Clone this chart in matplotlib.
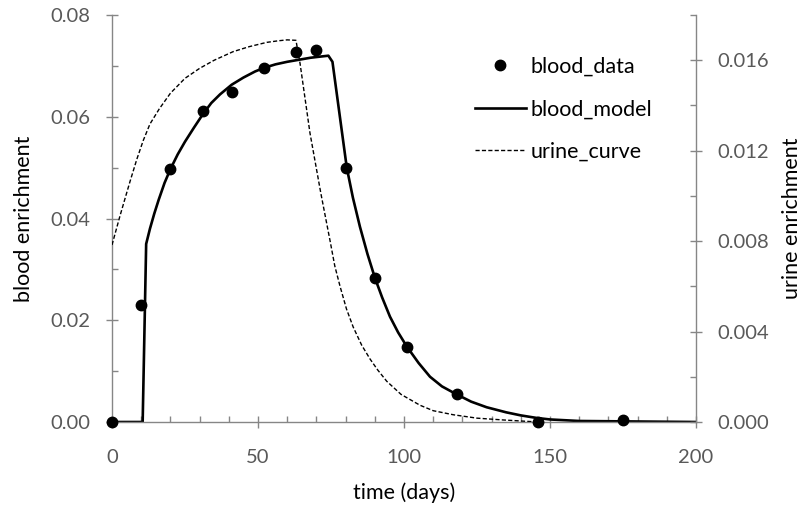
import matplotlib
matplotlib.use("Agg")
import matplotlib.pyplot as plt
from matplotlib.ticker import MultipleLocator, FormatStrFormatter

# blood data (days, blood enrichment)
data_days = [0, 10, 20, 31, 41, 52, 63, 70, 80, 90, 101, 118, 146, 175]
data_vals = [0.0, 0.023, 0.0497, 0.0612, 0.0648, 0.0695, 0.0728, 0.0732,
             0.0499, 0.0284, 0.0148, 0.0056, 0.0, 0.0003]

# blood model curve
model_days = [0, 10.5, 11.7, 13, 14.5, 16, 18, 20, 22.5, 25, 28, 31, 34, 37,
              41, 45, 49, 52, 56, 60, 64, 68, 71, 74.1, 75.5, 80.4, 82.5,
              84.9, 87.5, 90, 92.5, 95.2, 98, 101, 105, 108.9, 113, 117.8,
              123, 128.3, 135, 140, 145.4, 150, 160, 200]
model_vals = [0.0, 0.0, 0.035, 0.0380, 0.0410, 0.0437, 0.0470, 0.0497, 0.0526,
              0.0551, 0.0578, 0.0604, 0.0627, 0.0644, 0.0663, 0.0677, 0.0689,
              0.0696, 0.0703, 0.0708, 0.0712, 0.0716, 0.0718, 0.0720, 0.0708,
              0.0500, 0.0441, 0.0384, 0.0330, 0.0284, 0.0245, 0.0207, 0.0176,
              0.0148, 0.0116, 0.0089, 0.0070, 0.0055, 0.0040, 0.0029, 0.0019,
              0.0013, 0.0008, 0.0005, 0.0002, 0.0]

# urine curve (right axis units)
urine_days = [0, 1, 2.7, 4.5, 6.2, 8.5, 10.7, 13, 16.2, 20, 25, 30, 35, 41.5,
              47, 53, 57, 60, 63, 64.4, 67.8, 71.5, 74.7, 76.3, 78.1, 80.3,
              82.6, 85.5, 88.4, 91, 94.1, 99, 105.5, 110, 116.9, 125, 134, 146]
urine_vals = [0.00783, 0.0083, 0.0091, 0.0099, 0.01065, 0.01162, 0.01245,
              0.01318, 0.01385, 0.01454, 0.0152, 0.01564, 0.0160, 0.01638,
              0.0166, 0.01679, 0.01686, 0.0169, 0.01688, 0.01586, 0.01278,
              0.01013, 0.0080, 0.0069, 0.0060, 0.0050, 0.0042, 0.0034, 0.00278,
              0.0023, 0.0018, 0.00122, 0.00074, 0.0005, 0.00032, 0.00017,
              0.00009, 0.0]

plt.rcParams['font.family'] = ['Lato', 'DejaVu Sans']

fig = plt.figure(figsize=(8.07, 5.14), dpi=100)
ax = fig.add_axes([112/807, (514-422)/514, (696-112)/807, (422-15)/514])
ax2 = ax.twinx()

grey = '#868686'
tickc = '#595959'

ax.plot(model_days, model_vals, color='black', lw=1.9, label='blood_model', zorder=2)
ax2.plot(urine_days, urine_vals, color='black', lw=1.0, ls=(0, (3, 1.6)),
         label='urine_curve', zorder=2)
ax.plot(data_days, data_vals, 'o', color='black', ms=7.5, label='blood_data',
        zorder=3, clip_on=False)

ax.set_xlim(0, 200)
ax.set_ylim(0, 0.08)
ax2.set_ylim(0, 0.018)

ax.xaxis.set_major_locator(MultipleLocator(50))
ax.xaxis.set_minor_locator(MultipleLocator(10))
ax.yaxis.set_major_locator(MultipleLocator(0.02))
ax.yaxis.set_minor_locator(MultipleLocator(0.01))
ax.yaxis.set_major_formatter(FormatStrFormatter('%.2f'))
ax2.yaxis.set_major_locator(MultipleLocator(0.004))
ax2.yaxis.set_minor_locator(MultipleLocator(0.002))
ax2.yaxis.set_major_formatter(FormatStrFormatter('%.3f'))

for a in (ax, ax2):
    a.spines['top'].set_visible(False)
    for s in a.spines.values():
        s.set_color(grey)
        s.set_linewidth(1.0)
    a.tick_params(which='major', direction='inout', length=9, width=1.0,
                  color=grey, labelsize=14.5, labelcolor=tickc)
    a.tick_params(which='minor', direction='in', length=4.5, width=1.0, color=grey)
ax.tick_params(axis='x', pad=15)
ax.tick_params(axis='y', pad=11)
ax2.tick_params(axis='y', pad=11)
ax2.spines['left'].set_visible(False)
ax2.spines['bottom'].set_visible(False)
ax.spines['right'].set_visible(False)

ax.set_xlabel('time (days)', fontsize=15.5, labelpad=12)
ax.set_ylabel('blood enrichment', fontsize=15.5, labelpad=12)
ax2.set_ylabel('urine enrichment', fontsize=15.5, labelpad=9, rotation=90)

h1, l1 = ax.get_legend_handles_labels()
h2, l2 = ax2.get_legend_handles_labels()
handles = [h1[1], h1[0], h2[0]]
labels = [l1[1], l1[0], l2[0]]
leg = ax.legend(handles, labels, loc='upper left',
                bbox_to_anchor=((466-112)/584, (422-48)/407),
                frameon=False, fontsize=15.5, handlelength=2.4, labelspacing=1.05,
                handletextpad=0.2, borderaxespad=0)
leg.set_zorder(5)

fig.savefig('out.png', dpi=100)
